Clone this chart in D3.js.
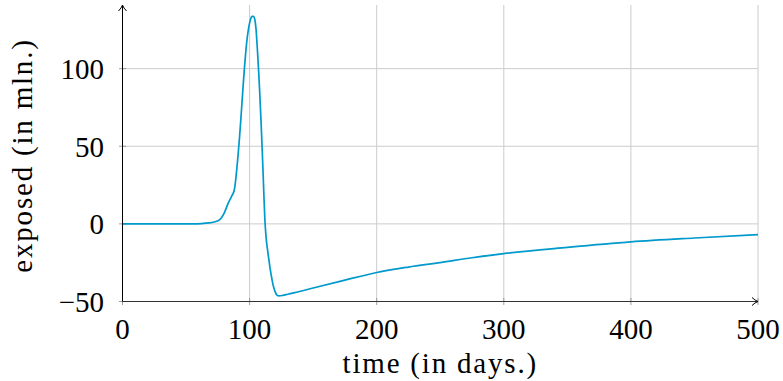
<!DOCTYPE html>
<html>
<head>
<meta charset="utf-8">
<script src="https://cdn.jsdelivr.net/npm/d3@7"></script>
<style>
  body { margin: 0; background: #fff; }
  text { font-family: "Liberation Serif", "Times New Roman", serif; fill: #000; }
</style>
</head>
<body>
<div id="chart"></div>
<script>
// time in days and exposed (in mln.)
const days = [0, 20, 40, 55, 62, 68, 72, 76, 80, 83, 86, 88, 89, 90, 91, 92, 93, 94, 95, 96, 97, 98, 99, 100, 101, 102, 103,
  104, 105, 106, 107, 108, 109, 110, 111, 112, 113, 114, 115, 116, 117, 118, 119, 120, 121, 122, 123, 126,
  130, 140, 150, 175, 200, 225, 250, 275, 300, 350, 400, 450, 500];
const exposed = [0, 0, 0, 0.05, 0.2, 0.6, 1.2, 2.4, 7, 13, 18, 22, 28, 36, 45, 55, 66, 78, 90, 101, 111, 119, 125, 129.5, 132.5, 133.7, 133.7,
  132, 126, 114, 100, 84, 66, 46, 24, 3, -9, -16, -22, -28, -33, -37.5, -41, -43.5, -45.3, -46.2, -46.4, -46.1,
  -45.3, -43.4, -41.3, -36.2, -31.3, -27.8, -24.9, -21.8, -19.1, -15.1, -11.6, -9.1, -6.9];
const xTicks = [0, 100, 200, 300, 400, 500];
const yTicks = [-50, 0, 50, 100];

const W = 783, H = 381;
const x0 = 122.5, x1 = 758, yBottom = 301.5, yTop = 5;

const svg = d3.select("#chart").append("svg")
  .attr("width", W).attr("height", H);

const x = d3.scaleLinear().domain([0, 500]).range([x0, x1]);
const y = d3.scaleLinear().domain([-50, 141]).range([yBottom, yTop]);

// grid
svg.append("g").selectAll("line.vg")
  .data(xTicks.filter(d => d > 0))
  .enter().append("line")
  .attr("x1", d => x(d)).attr("x2", d => x(d))
  .attr("y1", yTop).attr("y2", yBottom)
  .attr("stroke", "#cccccc").attr("stroke-width", 1);
svg.append("g").selectAll("line.hg")
  .data(yTicks.filter(d => d > -50))
  .enter().append("line")
  .attr("x1", x0).attr("x2", x1)
  .attr("y1", d => y(d)).attr("y2", d => y(d))
  .attr("stroke", "#cccccc").attr("stroke-width", 1);

// tick marks
svg.append("g").selectAll("line")
  .data(xTicks)
  .enter().append("line")
  .attr("x1", d => x(d)).attr("x2", d => x(d))
  .attr("y1", yBottom - 3.5).attr("y2", yBottom + 3.5)
  .attr("stroke", "#888").attr("stroke-width", 0.8);
svg.append("g").selectAll("line")
  .data(yTicks)
  .enter().append("line")
  .attr("x1", x0 - 3.5).attr("x2", x0 + 3.5)
  .attr("y1", d => y(d)).attr("y2", d => y(d))
  .attr("stroke", "#888").attr("stroke-width", 0.8);

// curve
const line = d3.line()
  .x((d, i) => x(days[i]))
  .y(d => y(d))
  .curve(d3.curveMonotoneX);

svg.append("path")
  .datum(exposed)
  .attr("d", line)
  .attr("fill", "none")
  .attr("stroke", "#0099cc")
  .attr("stroke-width", 1.7)
  .attr("stroke-linejoin", "round");

// axes with arrows
svg.append("line")
  .attr("x1", x0).attr("x2", x1 - 0.5)
  .attr("y1", yBottom).attr("y2", yBottom)
  .attr("stroke", "#333").attr("stroke-width", 1);
svg.append("line")
  .attr("x1", x0).attr("x2", x0)
  .attr("y1", yBottom).attr("y2", yTop + 0.5)
  .attr("stroke", "#000").attr("stroke-width", 1);

svg.append("path")
  .attr("d", `M${x1 - 6},${yBottom - 4} Q${x1 - 3},${yBottom - 1} ${x1},${yBottom} Q${x1 - 3},${yBottom + 1} ${x1 - 6},${yBottom + 4}`)
  .attr("fill", "none").attr("stroke", "#000").attr("stroke-width", 1);
svg.append("path")
  .attr("d", `M${x0 - 4},${yTop + 6} Q${x0 - 1},${yTop + 3} ${x0},${yTop} Q${x0 + 1},${yTop + 3} ${x0 + 4},${yTop + 6}`)
  .attr("fill", "none").attr("stroke", "#000").attr("stroke-width", 1);

// tick labels
svg.append("g").selectAll("text")
  .data(xTicks)
  .enter().append("text")
  .attr("x", d => x(d))
  .attr("y", 339)
  .attr("text-anchor", "middle")
  .style("font-size", "29px")
  .text(d => d);

svg.append("g").selectAll("text")
  .data(yTicks)
  .enter().append("text")
  .attr("x", 104)
  .attr("y", d => y(d) + 10.5)
  .attr("text-anchor", "end")
  .style("font-size", "29px")
  .text(d => d < 0 ? "\u2212" + Math.abs(d) : d);

// axis labels
svg.append("text")
  .attr("x", (x0 + x1) / 2)
  .attr("y", 373)
  .attr("text-anchor", "middle")
  .style("font-size", "29px")
  .style("letter-spacing", "1.8px")
  .text("time (in days.)");

svg.append("text")
  .attr("transform", "translate(32,155.5) rotate(-90)")
  .attr("text-anchor", "middle")
  .style("font-size", "29px")
  .style("letter-spacing", "1.8px")
  .text("exposed (in mln.)");
</script>
</body>
</html>
